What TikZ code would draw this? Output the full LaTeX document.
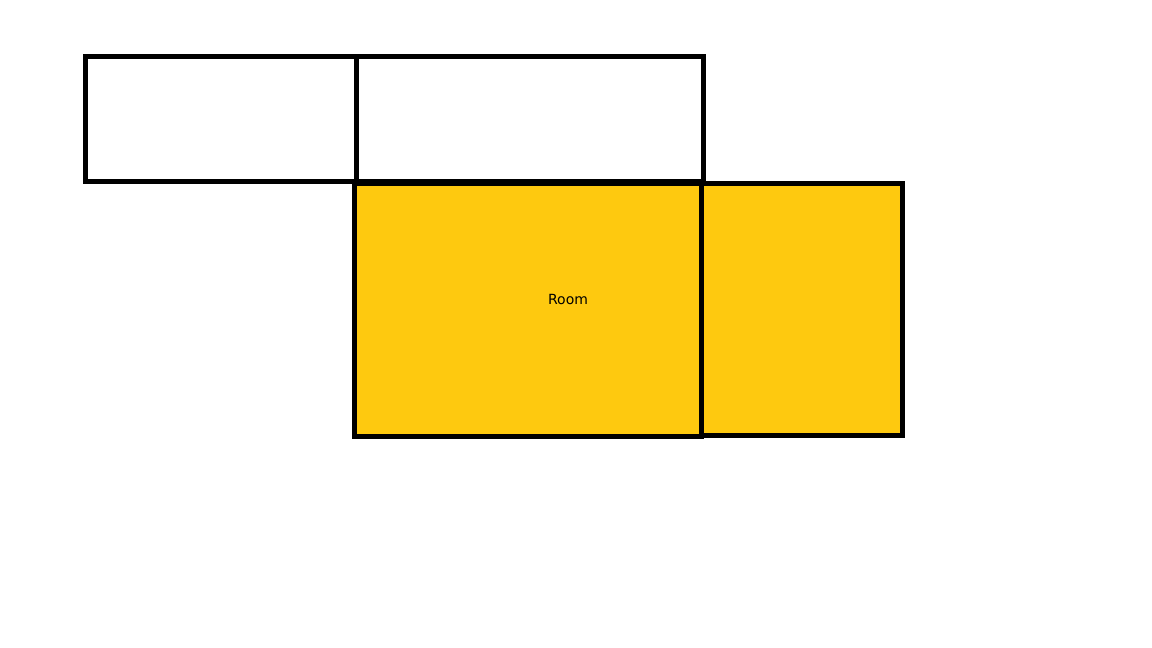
\documentclass[tikz,border=0pt]{standalone}
\usepackage{fontspec}
\setmainfont{DejaVu Sans}
\definecolor{roomyellow}{RGB}{254,201,15}
\tikzset{
  wall/.style={draw=black, line width=5pt, line join=miter},
  roomfill/.style={wall, fill=roomyellow},
  lbl/.style={font=\fontsize{14}{16}\selectfont, text=black, inner sep=0pt}
}
\begin{document}
\begin{tikzpicture}[x=1pt,y=-1pt]
  \useasboundingbox[fill=white] (0,0) rectangle (1152,648);
  % upper empty rooms
  \draw[wall] (85.5,56.5) rectangle (356,181.5);
  \draw[wall] (356,56.5) rectangle (703.5,181.5);
  % yellow rooms
  \draw[roomfill] (354.5,183) rectangle (701.5,436.5);
  \draw[roomfill] (701.5,183) rectangle (902.5,435.5);
  \node[lbl] (room) at (568,299.5) {Room};
\end{tikzpicture}
\end{document}
